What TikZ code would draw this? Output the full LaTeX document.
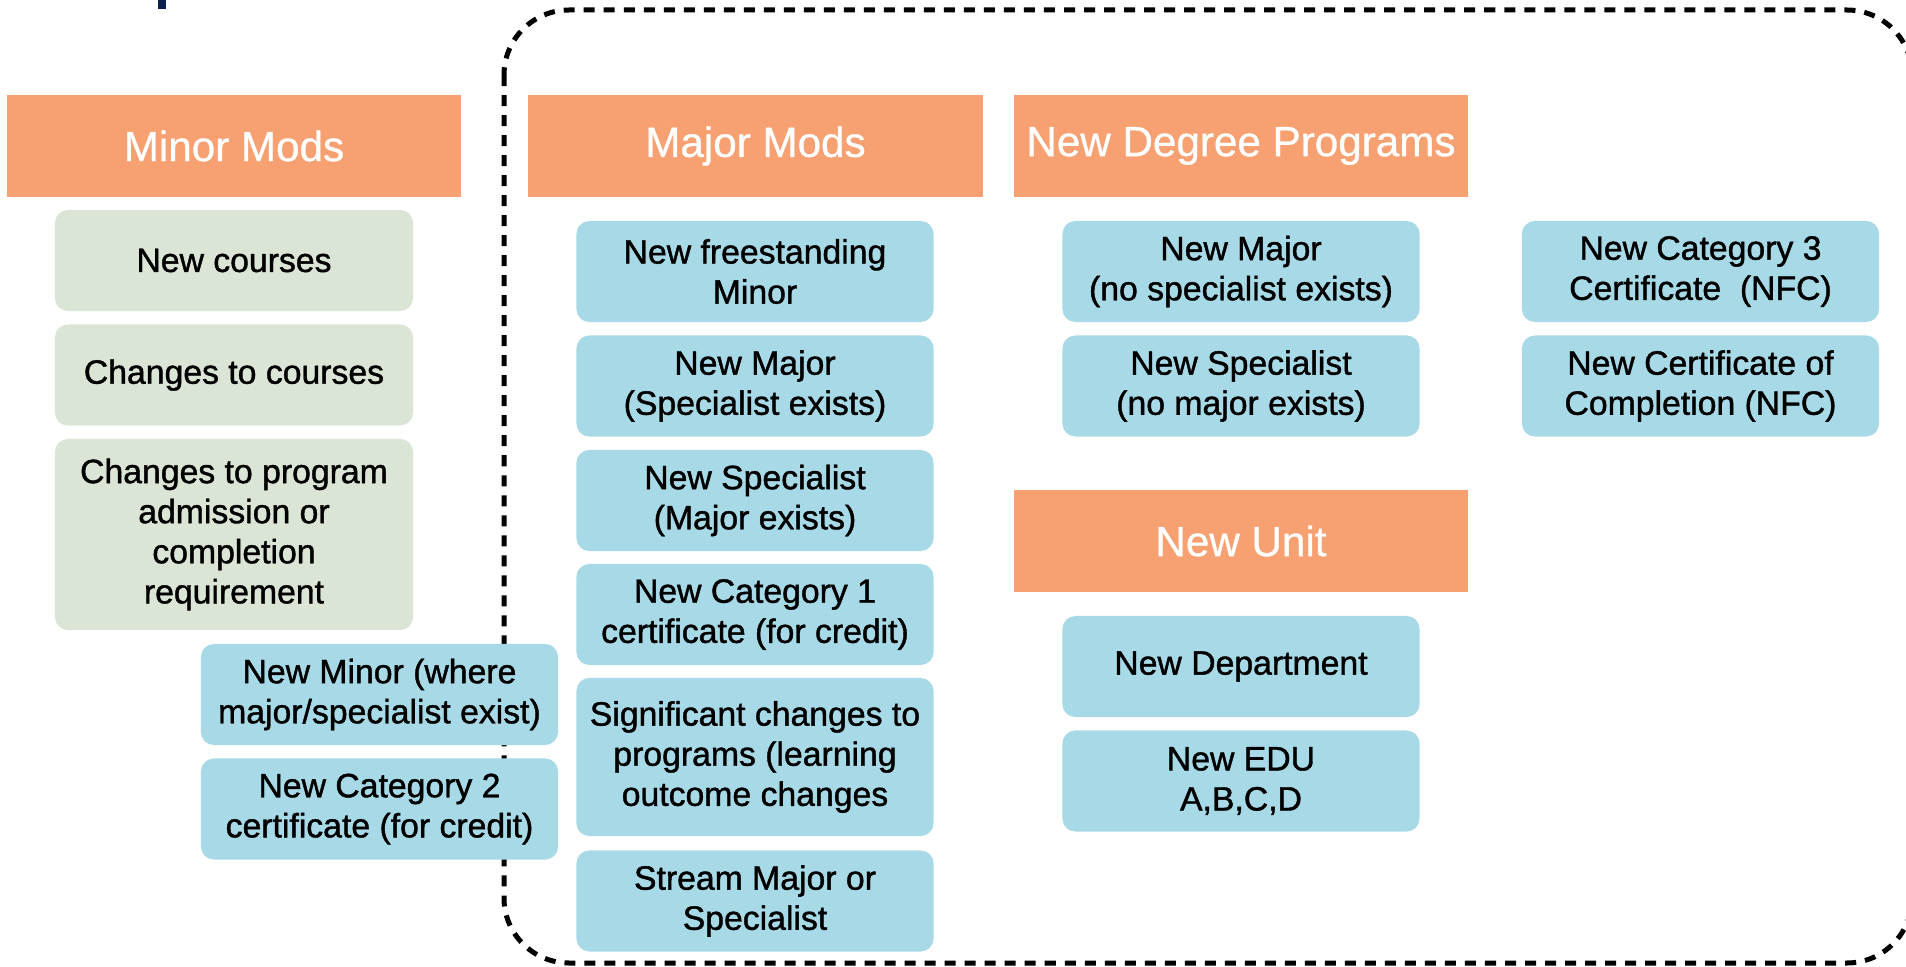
\documentclass[tikz,border=0pt]{standalone}
\usepackage{fontspec}
\setmainfont{Liberation Sans}
\newfontfamily\boxfont{Liberation Sans}[FakeBold=1.2]
\newfontfamily\headfont{Liberation Sans}[FakeBold=0.8]
\usepackage{tikz}
\definecolor{headorange}{HTML}{F7A071}
\definecolor{minorgreen}{HTML}{DAE5D5}
\definecolor{itemblue}{HTML}{A7D9E6}
\definecolor{titlenavy}{HTML}{0B1F4E}

\begin{document}
\begin{tikzpicture}
    [x=0.01cm, y=-0.01cm,
 head/.style ={rectangle, fill=headorange, text=white, minimum width=4.54cm, minimum height=1.02cm, inner sep=0pt, font=\headfont\fontsize{12}{14}\selectfont},
 greenbox/.style ={rectangle, fill=minorgreen, rounded corners=0.13cm, minimum width=3.58cm, minimum height=1.01cm, inner sep=0pt, align=center, font=\boxfont\fontsize{9.6}{11.4}\selectfont},
 bluebox/.style ={rectangle, fill=itemblue, rounded corners=0.13cm, minimum width=3.57cm, minimum height=1.01cm, inner sep=0pt, align=center, font=\boxfont\fontsize{9.6}{11.4}\selectfont},
 dashedframe/.style ={draw=black, line width=0.05cm, dash pattern=on 0.11cm off 0.09cm, rounded corners=0.65cm}]
        \useasboundingbox (0,0) rectangle (1906,967);
        \fill[titlenavy] (158,0) rectangle (166,9);
        \draw[dashedframe] (504,10) rectangle (1912,963);

        \node[head] (minorhead) at (234,146) {Minor Mods};
        \node[head] (majorhead) at (755.5,146) {Major Mods};
        \node[head] (degreehead) at (1241,146) {New Degree Programs};
        \node[head] (unithead) at (1241,541) {New Unit};

        \node[greenbox] (newcourses) at (234,260.5) {New courses};
        \node[greenbox] (changecourses) at (234,375) {Changes to courses};
        \node[greenbox, minimum height=1.91cm] (changereq) at (234,534.5) {Changes to program\\admission or\\completion\\requirement};
        \node[bluebox] (newminor) at (379.5,694.5) {New Minor (where\\major/specialist exist)};
        \node[bluebox] (cattwo) at (379.5,809) {New Category 2\\certificate (for credit)};

        \node[bluebox] (freeminor) at (755,271.5) {New freestanding\\Minor};
        \node[bluebox] (majorspec) at (755,386) {New Major\\(Specialist exists)};
        \node[bluebox] (specmajor) at (755,500.5) {New Specialist\\(Major exists)};
        \node[bluebox] (catone) at (755,614.5) {New Category 1\\certificate (for credit)};
        \node[bluebox, minimum height=1.58cm] (sigchange) at (755,757) {Significant changes to\\programs (learning\\outcome changes};
        \node[bluebox] (stream) at (755,901) {Stream Major or\\Specialist};

        \node[bluebox] (newmajor) at (1241,271.5) {New Major\\(no specialist exists)};
        \node[bluebox] (newspec) at (1241,386) {New Specialist\\(no major exists)};
        \node[bluebox] (newdept) at (1241,666.5) {New Department};
        \node[bluebox] (newedu) at (1241,781) {New EDU\\A,B,C,D};

        \node[bluebox] (catthree) at (1700.5,271.5) {New Category 3\\Certificate\ \ (NFC)};
        \node[bluebox] (completion) at (1700.5,386) {New Certificate of\\Completion (NFC)};
    \end{tikzpicture}
\end{document}
